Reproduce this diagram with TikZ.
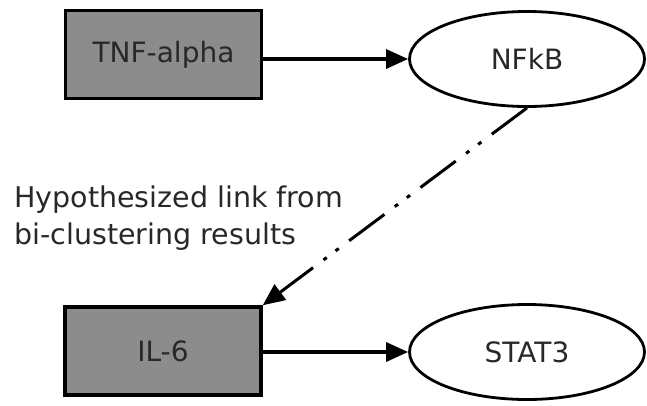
\documentclass[tikz,border=0pt]{standalone}
\usepackage{fontspec}
\setmainfont{DejaVu Sans}
\usetikzlibrary{shapes.geometric,arrows.meta}
\definecolor{boxgray}{RGB}{140,140,140}
\definecolor{inkgray}{RGB}{40,40,40}
\begin{document}
\begin{tikzpicture}[x=1pt,y=-1pt,
  gene/.style={draw=black,line width=3.5pt,fill=boxgray,minimum width=196pt,
    minimum height=88pt,inner sep=0pt,font=\fontsize{28}{34}\selectfont,text=inkgray},
  prot/.style={ellipse,draw=black,line width=2.8pt,fill=white,minimum width=235pt,
    minimum height=95pt,inner sep=0pt,font=\fontsize{28}{34}\selectfont,text=inkgray},
  link/.style={line width=3.2pt,-{Triangle[length=22pt,width=19pt]}},
  hyp/.style={line width=3pt,dash pattern=on 44pt off 13pt on 4pt off 11pt on 4pt off 13pt,
    -{Triangle[length=22pt,width=19pt]}},
  lbl/.style={inner sep=0pt,anchor=base west,font=\fontsize{28.5}{37}\selectfont,text=inkgray}
]
\useasboundingbox[fill=white] (0,0) rectangle (647,405);
\node[gene] (tnf) at (163.5,54.5) {TNF-alpha};
\node[prot] (nfkb) at (527,59) {NFkB};
\node[gene] (il6) at (163,351) {IL-6};
\node[prot] (stat3) at (527,352) {STAT3};
\draw[link] (tnf.east |- nfkb.west) -- (nfkb.west);
\draw[link] (il6.east |- stat3.west) -- (stat3.west);
\draw[hyp] (nfkb.south) -- (il6.north east);
\node[lbl] (l1) at (14,207) {Hypothesized link from};
\node[lbl] (l2) at (14,244) {bi-clustering results};
\end{tikzpicture}
\end{document}
